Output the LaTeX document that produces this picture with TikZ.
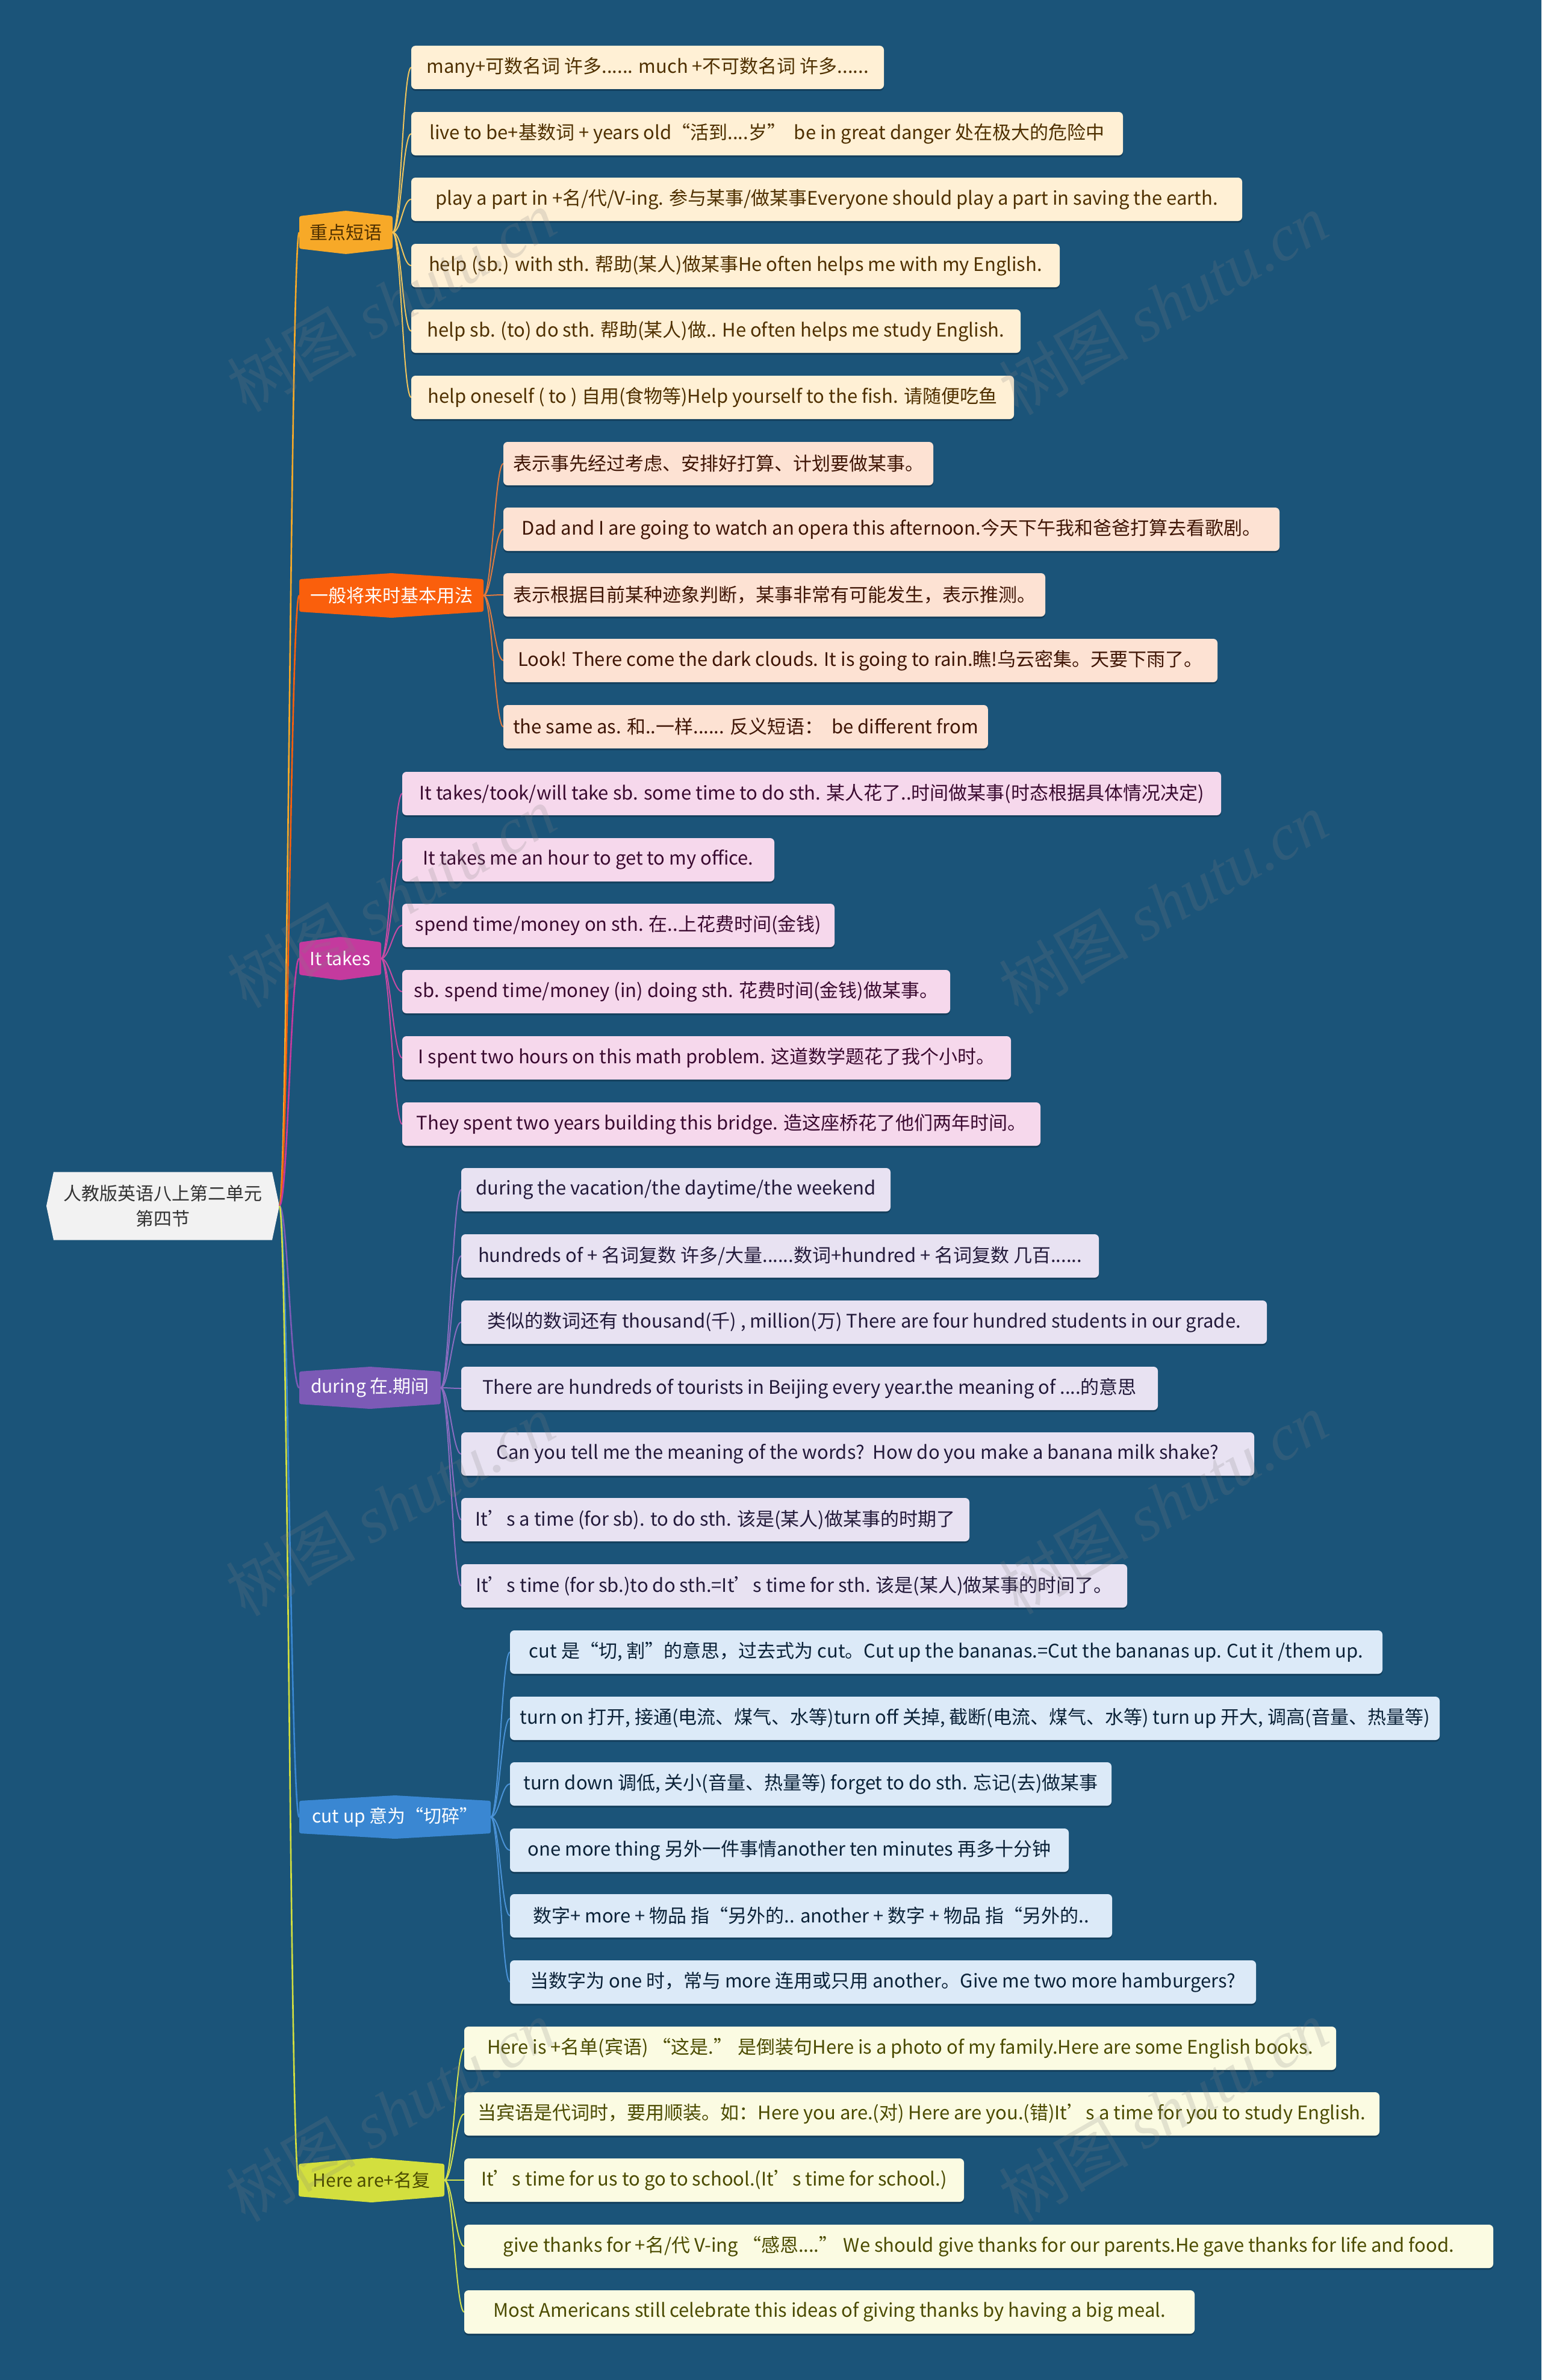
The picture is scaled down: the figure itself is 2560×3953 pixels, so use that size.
\documentclass[tikz,border=0pt]{standalone}
\usepackage{fontspec}
\setmainfont{Noto Sans CJK SC}
\newfontfamily\wmlatin{Liberation Serif}
\usetikzlibrary{calc,shadows}
\pgfdeclarelayer{back}
\pgfdeclarelayer{bg}
\pgfsetlayers{back,bg,main}

\definecolor{bgblue}{HTML}{1B5479}
\definecolor{rootfill}{HTML}{F2F2F2}
\definecolor{rootText}{HTML}{333333}
\definecolor{cA}{HTML}{F7A928}
\definecolor{cB}{HTML}{FA5F0C}
\definecolor{cC}{HTML}{C43A9E}
\definecolor{cD}{HTML}{7C5AB6}
\definecolor{cE}{HTML}{3A87D2}
\definecolor{cF}{HTML}{D3DF3E}
\definecolor{lA}{HTML}{F0C45C}
\definecolor{lB}{HTML}{E07A40}
\definecolor{lC}{HTML}{C84AA4}
\definecolor{lD}{HTML}{8A6CC0}
\definecolor{lE}{HTML}{4A92D6}
\definecolor{lF}{HTML}{D6E24E}
\definecolor{fA}{HTML}{FFF0D5}
\definecolor{fB}{HTML}{FDE2D3}
\definecolor{fC}{HTML}{F6D8EC}
\definecolor{fD}{HTML}{E8E2F2}
\definecolor{fE}{HTML}{DCEAF8}
\definecolor{fF}{HTML}{FBFBE2}
\definecolor{tA}{HTML}{4F3000}
\definecolor{tB}{HTML}{3F1505}
\definecolor{tC}{HTML}{3A0A30}
\definecolor{tD}{HTML}{231A3A}
\definecolor{tE}{HTML}{0B2238}
\definecolor{tF}{HTML}{4B4B00}
\definecolor{shadowc}{HTML}{0D2F47}

\newcommand\leafnode[6]{%
  \node[#1, minimum width={(#4-#3)*1pt}] (#2) at (#3,#5) {#6};}
\newcommand\branchnode[8]{%
  \node[branchbox, text=#3, minimum width={(#5-#4)*1pt}] (#1) at ({(#4+#5)/2},#6) {#8};
  \begin{pgfonlayer}{bg}
  \fill[#2, rounded corners=3pt] (#1.north west) -- ($(#1.north)+(0,-#7)$) -- (#1.north east)
     -- (#1.south east) -- ($(#1.south)+(0,#7)$) -- (#1.south west) -- cycle;
  \end{pgfonlayer}}
\newcommand\linkit[3]{%
  \begin{pgfonlayer}{bg}
  \draw[#1] let \p1=(#2.east), \p2=(#3.west) in
     (\p1) .. controls ({\x1+14pt},\y1) and ({\x2-14pt},\y2) .. (\p2);
  \end{pgfonlayer}}

\begin{document}
\begin{tikzpicture}[x=1pt,y=-1pt,
  every node/.style={inner sep=0pt, outer sep=0pt},
  leafbase/.style={anchor=west, minimum height=72pt, rounded corners=7pt,
     inner xsep=16pt, font=\fontsize{31}{36}\selectfont,
     drop shadow={shadow xshift=0pt, shadow yshift=-3pt, opacity=0.55, fill=shadowc}},
  leafA/.style={leafbase, fill=fA, text=tA},
  leafB/.style={leafbase, fill=fB, text=tB},
  leafC/.style={leafbase, fill=fC, text=tC},
  leafD/.style={leafbase, fill=fD, text=tD},
  leafE/.style={leafbase, fill=fE, text=tE},
  leafF/.style={leafbase, fill=fF, text=tF},
  branchbox/.style={minimum height=54pt, font=\fontsize{30}{36}\selectfont},
  rootlink/.style={line width=2.6pt},
  leaflink/.style={line width=2pt},
  wmark/.style={rotate=30, text=gray, opacity=0.2, font=\fontsize{108}{112}\selectfont}
]
\begin{pgfonlayer}{back}
\fill[bgblue] (0,0) rectangle (2560,3953);
\end{pgfonlayer}
\useasboundingbox (0,0) rectangle (2560,3953);

% root
\node[minimum width=387pt, minimum height=113pt, text=rootText, align=center,
      font=\fontsize{30}{42}\selectfont] (root) at (270.5,2003) {人教版英语八上第二单元\\第四节};
\begin{pgfonlayer}{bg}
\fill[rootfill] (root.west) -- ($(root.north west)+(12,0)$) -- ($(root.north east)+(-12,0)$)
   -- (root.east) -- ($(root.south east)+(-12,0)$) -- ($(root.south west)+(12,0)$) -- cycle;
\end{pgfonlayer}

% branches
\branchnode{bA}{cA}{tA}{497}{652}{386}{9}{重点短语}
\branchnode{bB}{cB}{white}{497}{803}{989}{10}{一般将来时基本用法}
\branchnode{bC}{cC}{white}{497}{633}{1592}{9}{It takes}
\branchnode{bD}{cD}{white}{497}{732}{2305}{8}{during 在.期间}
\branchnode{bE}{cE}{white}{497}{815}{3018}{9}{cut up 意为“切碎”}
\branchnode{bF}{cF}{tF}{496}{738}{3621}{10}{Here are+名复}

\linkit{rootlink,cA}{root}{bA}
\linkit{rootlink,cB}{root}{bB}
\linkit{rootlink,cC}{root}{bC}
\linkit{rootlink,cD}{root}{bD}
\linkit{rootlink,cE}{root}{bE}
\linkit{rootlink,cF}{root}{bF}

% group A
\leafnode{leafA}{a1}{683}{1468}{112}{many+可数名词 许多...... much +不可数名词 许多......}
\leafnode{leafA}{a2}{683}{1865}{222}{live to be+基数词 + years old“活到....岁”\ \ be in great danger 处在极大的危险中}
\leafnode{leafA}{a3}{683}{2063}{331}{play a part in +名/代/V-ing. 参与某事/做某事Everyone should play a part in saving the earth.}
\leafnode{leafA}{a4}{683}{1760}{441}{help (sb.) with sth. 帮助(某人)做某事He often helps me with my English.}
\leafnode{leafA}{a5}{683}{1695}{550}{help sb. (to) do sth. 帮助(某人)做.. He often helps me study English.}
\leafnode{leafA}{a6}{683}{1684}{660}{help oneself ( to ) 自用(食物等)Help yourself to the fish. 请随便吃鱼}
\foreach \lf in {a1,a2,a3,a4,a5,a6} {\linkit{leaflink,lA}{bA}{\lf}}

% group B
\leafnode{leafB}{b1}{836}{1541}{770}{表示事先经过考虑、安排好打算、计划要做某事。}
\leafnode{leafB}{b2}{836}{2125}{879}{Dad and I are going to watch an opera this afternoon.今天下午我和爸爸打算去看歌剧。}
\leafnode{leafB}{b3}{836}{1725}{988}{表示根据目前某种迹象判断，某事非常有可能发生，表示推测。}
\leafnode{leafB}{b4}{836}{2022}{1097}{Look! There come the dark clouds. It is going to rain.瞧!乌云密集。天要下雨了。}
\leafnode{leafB}{b5}{836}{1639}{1207}{the same as. 和..一样...... 反义短语：\ \ be different from}
\foreach \lf in {b1,b2,b3,b4,b5} {\linkit{leaflink,lB}{bB}{\lf}}

% group C
\leafnode{leafC}{c1}{668}{2028}{1318}{It takes/took/will take sb. some time to do sth. 某人花了..时间做某事(时态根据具体情况决定)}
\leafnode{leafC}{c2}{668}{1286}{1428}{It takes me an hour to get to my office.}
\leafnode{leafC}{c3}{668}{1386}{1537}{spend time/money on sth. 在..上花费时间(金钱)}
\leafnode{leafC}{c4}{668}{1578}{1647}{sb. spend time/money (in) doing sth. 花费时间(金钱)做某事。}
\leafnode{leafC}{c5}{668}{1679}{1757}{I spent two hours on this math problem. 这道数学题花了我个小时。}
\leafnode{leafC}{c6}{668}{1728}{1867}{They spent two years building this bridge. 造这座桥花了他们两年时间。}
\foreach \lf in {c1,c2,c3,c4,c5,c6} {\linkit{leaflink,lC}{bC}{\lf}}

% group D
\leafnode{leafD}{d1}{766}{1479}{1976}{during the vacation/the daytime/the weekend}
\leafnode{leafD}{d2}{766}{1825}{2086}{hundreds of + 名词复数 许多/大量......数词+hundred + 名词复数 几百......}
\leafnode{leafD}{d3}{766}{2104}{2196}{类似的数词还有 thousand(千) , million(万) There are four hundred students in our grade.}
\leafnode{leafD}{d4}{766}{1923}{2306}{There are hundreds of tourists in Beijing every year.the meaning of ....的意思}
\leafnode{leafD}{d5}{766}{2083}{2415}{Can you tell me the meaning of the words?\ \ How do you make a banana milk shake?}
\leafnode{leafD}{d6}{766}{1610}{2524}{It’s a time (for sb). to do sth. 该是(某人)做某事的时期了}
\leafnode{leafD}{d7}{766}{1872}{2634}{It’s time (for sb.)to do sth.=It’s time for sth. 该是(某人)做某事的时间了。}
\foreach \lf in {d1,d2,d3,d4,d5,d6,d7} {\linkit{leaflink,lD}{bD}{\lf}}

% group E
\leafnode{leafE}{e1}{847}{2296}{2744}{cut 是“切, 割”的意思，过去式为 cut。Cut up the bananas.=Cut the bananas up. Cut it /them up.}
\leafnode{leafE}{e2}{847}{2391}{2854}{turn on 打开, 接通(电流、煤气、水等)turn off 关掉, 截断(电流、煤气、水等) turn up 开大, 调高(音量、热量等)}
\leafnode{leafE}{e3}{847}{1846}{2963}{turn down 调低, 关小(音量、热量等) forget to do sth. 忘记(去)做某事}
\leafnode{leafE}{e4}{847}{1775}{3073}{one more thing 另外一件事情another ten minutes 再多十分钟}
\leafnode{leafE}{e5}{847}{1847}{3182}{数字+ more + 物品 指“另外的.. another + 数字 + 物品 指“另外的..}
\leafnode{leafE}{e6}{847}{2086}{3292}{当数字为 one 时，常与 more 连用或只用 another。Give me two more hamburgers?}
\foreach \lf in {e1,e2,e3,e4,e5,e6} {\linkit{leaflink,lE}{bE}{\lf}}

% group F
\leafnode{leafF}{f1}{771}{2219}{3402}{Here is +名单(宾语) “这是.” 是倒装句Here is a photo of my family.Here are some English books.}
\leafnode{leafF}{f2}{771}{2291}{3511}{当宾语是代词时，要用顺装。如：Here you are.(对) Here are you.(错)It’s a time for you to study English.}
\leafnode{leafF}{f3}{771}{1601}{3621}{It’s time for us to go to school.(It’s time for school.)}
\leafnode{leafF}{f4}{771}{2480}{3731}{give thanks for +名/代 V-ing “感恩....” We should give thanks for our parents.He gave thanks for life and food.}
\leafnode{leafF}{f5}{771}{1984}{3840}{Most Americans still celebrate this ideas of giving thanks by having a big meal.}
\foreach \lf in {f1,f2,f3,f4,f5} {\linkit{leaflink,lF}{bF}{\lf}}

% watermarks
\node[wmark] (w1) at (650,500) {树图 {\wmlatin\itshape shutu.cn}};
\node[wmark] (w2) at (1932,505) {树图 {\wmlatin\itshape shutu.cn}};
\node[wmark] (w3) at (650,1490) {树图 {\wmlatin\itshape shutu.cn}};
\node[wmark] (w4) at (1932,1500) {树图 {\wmlatin\itshape shutu.cn}};
\node[wmark] (w5) at (648,2500) {树图 {\wmlatin\itshape shutu.cn}};
\node[wmark] (w6) at (1932,2497) {树图 {\wmlatin\itshape shutu.cn}};
\node[wmark] (w7) at (648,3506) {树图 {\wmlatin\itshape shutu.cn}};
\node[wmark] (w8) at (1932,3506) {树图 {\wmlatin\itshape shutu.cn}};
\end{tikzpicture}
\end{document}
